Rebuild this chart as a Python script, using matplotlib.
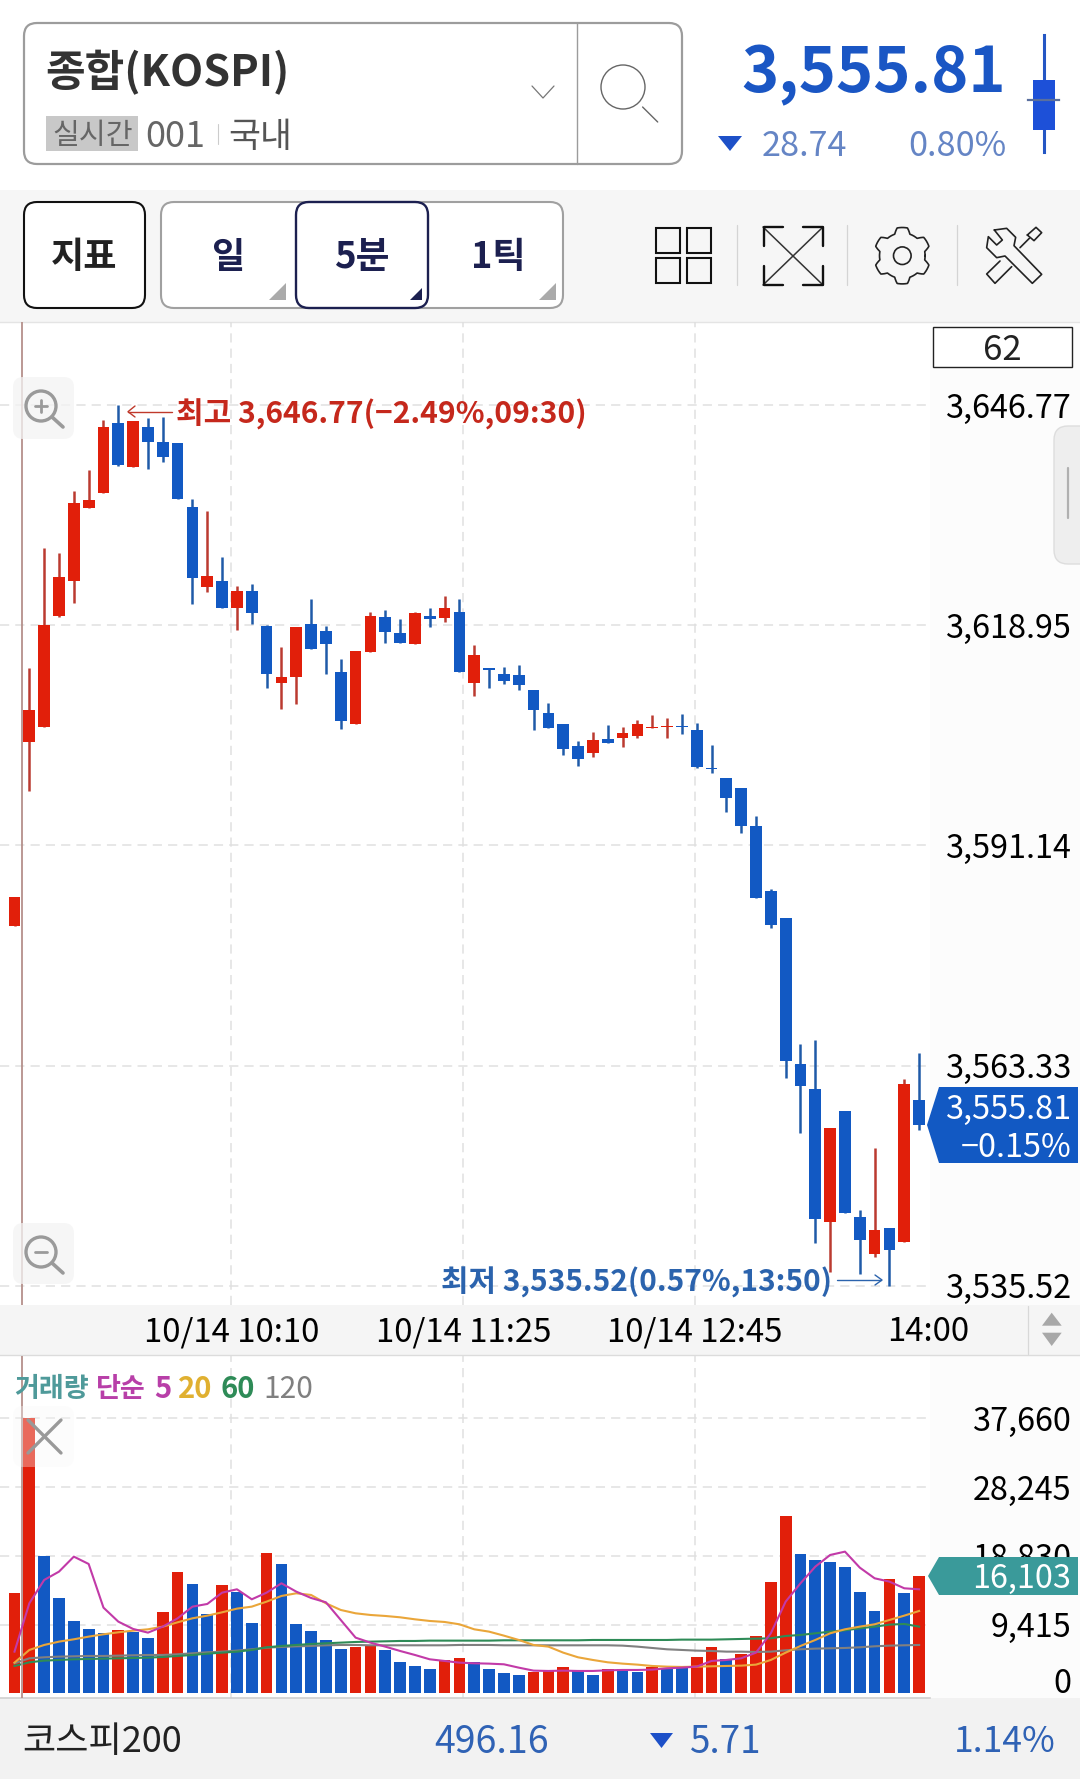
import numpy as np
import matplotlib
matplotlib.use('Agg')
import matplotlib.pyplot as plt
from matplotlib.patches import FancyBboxPatch, Polygon, Rectangle, Circle, Ellipse
from matplotlib.transforms import ScaledTranslation

plt.rcParams['font.family'] = ['Noto Sans CJK KR', 'DejaVu Sans']

# candles: open, high, low, close
opens = [3580.97, 3604.21, 3606.10, 3620.16, 3624.54, 3633.80, 3635.69, 3644.50, 3638.98, 3643.99, 3642.10,
         3641.97, 3633.89, 3623.82, 3624.50, 3621.17, 3623.24, 3618.86, 3611.70, 3612.42, 3619.07, 3618.23,
         3613.01, 3606.44, 3615.54, 3620.03, 3617.94, 3616.55, 3620.12, 3619.83, 3620.59, 3611.62, 3613.52,
         3612.76, 3612.67, 3610.74, 3607.83, 3606.44, 3603.74, 3602.82, 3604.62, 3604.67, 3605.00, 3606.01,
         3606.10, 3606.27, 3605.68, 3600.92, 3599.70, 3598.36, 3593.64, 3585.39, 3581.94, 3563.50, 3560.38,
         3543.58, 3557.60, 3544.25, 3539.58, 3542.86, 3541.10, 3558.95]
highs = [3584.63, 3613.59, 3628.71, 3628.08, 3635.95, 3638.56, 3644.88, 3646.77, 3644.75, 3645.13, 3645.29,
         3641.97, 3634.86, 3633.34, 3627.53, 3623.95, 3624.12, 3618.98, 3616.24, 3618.69, 3622.23, 3618.90,
         3614.65, 3615.74, 3620.66, 3620.84, 3619.70, 3620.66, 3621.09, 3622.68, 3622.23, 3616.46, 3613.52,
         3613.72, 3613.93, 3610.74, 3609.17, 3606.44, 3604.37, 3605.51, 3606.39, 3606.06, 3606.95, 3607.65,
         3607.20, 3607.78, 3606.57, 3603.87, 3599.70, 3598.36, 3594.86, 3585.60, 3581.94, 3566.10, 3566.57,
         3555.42, 3557.60, 3545.10, 3552.97, 3542.86, 3561.68, 3564.97]
lows = [3580.97, 3598.06, 3606.10, 3620.03, 3621.80, 3633.80, 3635.69, 3639.07, 3638.90, 3638.72, 3639.61,
        3634.86, 3621.64, 3623.19, 3621.17, 3618.35, 3619.11, 3610.99, 3608.41, 3609.01, 3615.99, 3612.76,
        3605.81, 3606.44, 3615.54, 3616.75, 3616.67, 3616.55, 3618.77, 3619.40, 3613.01, 3610.05, 3610.99,
        3611.57, 3610.77, 3605.76, 3605.94, 3602.60, 3601.18, 3602.35, 3604.08, 3603.61, 3604.75, 3606.01,
        3604.71, 3605.22, 3600.96, 3600.25, 3595.40, 3592.68, 3584.54, 3580.68, 3561.81, 3554.82, 3540.97,
        3537.31, 3544.68, 3537.05, 3539.20, 3535.52, 3541.10, 3555.20]
closes = [3584.63, 3608.25, 3618.98, 3625.05, 3634.39, 3634.77, 3643.95, 3639.19, 3644.75, 3642.10, 3640.24,
          3634.86, 3624.88, 3625.13, 3621.17, 3623.28, 3620.50, 3612.76, 3612.45, 3618.69, 3615.99, 3616.55,
          3606.90, 3615.74, 3620.12, 3618.14, 3616.67, 3620.46, 3619.70, 3621.09, 3613.01, 3615.16, 3613.26,
          3611.95, 3611.37, 3608.25, 3605.94, 3603.36, 3602.06, 3604.42, 3604.08, 3605.31, 3606.48, 3606.14,
          3606.23, 3606.14, 3601.09, 3600.76, 3597.13, 3593.60, 3584.54, 3581.09, 3563.95, 3560.80, 3544.00,
          3555.42, 3544.68, 3541.27, 3542.57, 3540.05, 3560.98, 3555.81]

volumes = [13786, 37660, 18808, 13056, 9860, 8765, 8308, 8674, 8445, 7578, 11139, 16617, 14973, 10819, 14882,
           13923, 9632, 19173, 17667, 9495, 8582, 7304, 6117, 6391, 6619, 5935, 4337, 3698, 3332, 4565, 4839,
           4245, 3332, 2739, 2511, 2967, 3104, 3561, 3241, 2511, 3332, 3287, 2967, 3652, 3424, 3424, 4976, 6300,
           4656, 5387, 7897, 15201, 24286, 19036, 18214, 17986, 17301, 13832, 11276, 15612, 13786, 16103]
vol_up = [1, 1, 0, 0, 0, 0, 0, 1, 0, 0, 1, 1, 0, 0, 1, 0, 0, 1, 0, 0, 0, 0, 0, 1, 1, 0, 0, 0, 0, 1, 1,
          0, 0, 0, 0, 1, 1, 1, 0, 0, 1, 0, 0, 1, 0, 0, 1, 1, 0, 1, 1, 1, 1, 0, 0, 0, 0, 0, 0, 1, 0, 1]

ma5 = [5706, 12326, 15521, 16662, 18717, 17712, 11732, 9815, 8810, 8308, 9130, 10271, 11869, 12234, 13786,
       14243, 12873, 13786, 15065, 13923, 13056, 12462, 10043, 7624, 6939, 6391, 5798, 5250, 4656, 4428, 4200,
       4109, 4063, 3972, 3515, 3104, 3059, 3104, 3059, 3059, 3150, 3196, 3196, 3241, 3424, 3515, 3652, 4428,
       4565, 4793, 5569, 8217, 12554, 15065, 17347, 18945, 19401, 17210, 15749, 15293, 14380, 14243]
ma20 = [4200, 5935, 6619, 7076, 7395, 7761, 8080, 8354, 8582, 8765, 9130, 9723, 10271, 10636, 11093, 11595,
        11869, 12554, 13330, 13695, 13467, 12326, 11413, 10956, 10728, 10591, 10408, 10134, 9906, 9769, 9450,
        8765, 8445, 7897, 7304, 6619, 6391, 5569, 4930, 4565, 4245, 4063, 3926, 3743, 3652, 3606, 3652, 3698,
        3743, 3789, 3926, 4565, 5569, 6482, 7304, 8217, 8765, 9130, 9450, 10043, 10636, 11276]
ma60 = [3743, 4245, 4474, 4565, 4656, 4702, 4748, 4793, 4839, 4885, 4976, 5113, 5250, 5432, 5569, 5706, 5935,
        6300, 6482, 6619, 6756, 6848, 6939, 7030, 7076, 7121, 7167, 7167, 7213, 7213, 7213, 7213, 7213, 7258,
        7258, 7258, 7258, 7258, 7258, 7304, 7304, 7304, 7304, 7304, 7304, 7350, 7350, 7350, 7395, 7441, 7487,
        7532, 7852, 7989, 8217, 8445, 8628, 8902, 9130, 9404, 9495, 9130]
ma120 = [4109, 4793, 4930, 5022, 5067, 5113, 5113, 5158, 5204, 5250, 5250, 5341, 5478, 5615, 5706, 5843, 6026,
         6254, 6345, 6437, 6482, 6574, 6619, 6619, 6574, 6574, 6574, 6574, 6574, 6574, 6619, 6619, 6619, 6574,
         6574, 6574, 6574, 6574, 6574, 6574, 6574, 6528, 6391, 6208, 6026, 5935, 5843, 5798, 5706, 5706, 5661,
         5706, 5889, 6026, 6117, 6163, 6208, 6300, 6437, 6528, 6574, 6619]

price_ticks = [3535.52, 3563.33, 3591.14, 3618.95, 3646.77]
price_labels = ['3,535.52', '3,563.33', '3,591.14', '3,618.95', '3,646.77']
vol_ticks = [0, 9415, 18830, 28245, 37660]
vol_labels = ['0', '9,415', '18,830', '28,245', '37,660']
time_ticks = [14.62, 30.26, 45.88, 61.6]
time_labels = ['10/14 10:10', '10/14 11:25', '10/14 12:45', '14:00']

RED = '#e11f0a'
BLUE = '#1259c3'
W, H = 1080, 1779
PLOT_R = 930
GRID = '#e0e0e0'


def px_axes(fig, left, top, right, bottom):
    return fig.add_axes([left / W, 1 - bottom / H, (right - left) / W, (bottom - top) / H])


def rbox(ax, x0, y0, x1, y1, r, **kw):
    ax.add_patch(FancyBboxPatch((x0, y0), x1 - x0, y1 - y0, boxstyle='round,pad=0,rounding_size=%g' % r, **kw))


def txt(ax, x, y, s, size, color='black', ha='left', weight='normal'):
    # the CJK font sits high when centred, hence the nudge
    ax.text(x, y + 0.24 * size, s, fontsize=size, color=color, ha=ha, va='center', fontweight=weight)


def seg(ax, xs, ys, color='black', lw=1.2):
    ax.plot(xs, ys, color=color, lw=lw, solid_capstyle='round', solid_joinstyle='round')


def icon(ax, zx, zy, color='#222222', lw=1.2):
    # outline given in the 3x crop of the toolbar
    seg(ax, 740 + np.array(zx) / 3, 205 + np.array(zy) / 3, color, lw)


fig = plt.figure(figsize=(W / 100, H / 100), dpi=100, facecolor='white')

# backgrounds
bg = px_axes(fig, 0, 0, W, H)
bg.set_xlim(0, W)
bg.set_ylim(H, 0)
bg.axis('off')
bg.set_zorder(0)
bg.add_patch(Rectangle((0, 190), W, 132, color='#f6f6f6', lw=0))
bg.add_patch(Rectangle((PLOT_R, 322), W - PLOT_R, 983, color='#fcfcfc', lw=0))
bg.add_patch(Rectangle((PLOT_R, 1356), W - PLOT_R, 342, color='#fcfcfc', lw=0))
bg.add_patch(Rectangle((0, 1305), W, 50, color='#f5f5f5', lw=0))
bg.add_patch(Rectangle((0, 1698), W, 81, color='#f2f2f2', lw=0))
bg.plot([0, W], [321.5, 321.5], color='#e4e4e4', lw=1)
bg.plot([0, W], [1355, 1355], color='#dcdcdc', lw=1)

# price chart
xs = np.arange(len(closes))
opens_a, highs_a, lows_a, closes_a = map(np.array, (opens, highs, lows, closes))
up = closes_a >= opens_a
x_left = -14.5 / 14.83
x_right = (PLOT_R - 14.5) / 14.83
scale = 27.81 / 220.2

ax = px_axes(fig, 0, 322, PLOT_R, 1305)
ax.set_zorder(1)
ax.patch.set_alpha(0)
ax.set_xlim(x_left, x_right)
ax.set_ylim(3646.77 - 900 * scale, 3646.77 + 83 * scale)
ax.vlines(xs[up], lows_a[up], highs_a[up], color='#bb3a30', lw=1.8, zorder=3)
ax.vlines(xs[~up], lows_a[~up], highs_a[~up], color='#1f5aa8', lw=1.8, zorder=3)
body = np.maximum(np.abs(closes_a - opens_a), 0.1)
ax.bar(xs[up], body[up], bottom=np.minimum(opens_a, closes_a)[up], width=0.79, color=RED, zorder=4)
ax.bar(xs[~up], body[~up], bottom=np.minimum(opens_a, closes_a)[~up], width=0.79, color=BLUE, zorder=4)
ax.axvline(0.526, color='#b5908b', lw=1.3, zorder=2)
ax.set_yticks(price_ticks)
ax.set_yticklabels(price_labels, fontsize=23.3, ha='right')
ax.yaxis.tick_right()
ax.set_xticks(time_ticks)
ax.set_xticklabels(time_labels, fontsize=23.7)
ax.tick_params(axis='y', length=0, pad=101.5)
ax.tick_params(axis='x', length=0, pad=8)
ax.grid(True, color=GRID, lw=1.1, ls=(0, (6, 4)), zorder=1)
ax.xaxis.get_gridlines()[3].set_visible(False)
for s in ax.spines.values():
    s.set_visible(False)

# volume chart
vol_scale = 136.95
vx = px_axes(fig, 0, 1356, PLOT_R, 1698)
vx.set_zorder(1)
vx.patch.set_alpha(0)
vx.set_xlim(x_left, x_right)
vx.set_ylim(-4.7 * vol_scale, (1693.3 - 1356) * vol_scale)
vx.bar(xs, volumes, width=0.79, color=[RED if u else BLUE for u in vol_up], zorder=3)
vx.plot(xs, ma120, color='#808080', lw=1.5, zorder=4)
vx.plot(xs, ma60, color='#2e8b57', lw=1.5, zorder=4)
vx.plot(xs, ma20, color='#eaa63a', lw=1.5, zorder=5)
vx.plot(xs, ma5, color='#c23aa8', lw=1.5, zorder=6)
vx.axvline(0.526, color='#b5908b', lw=1.3, zorder=5)
vx.set_yticks(vol_ticks)
vx.set_yticklabels(vol_labels, fontsize=23.3, ha='right')
vx.yaxis.tick_right()
vx.set_xticks(time_ticks)
vx.tick_params(axis='x', length=0, labelbottom=False)
vx.tick_params(axis='y', length=0, pad=101.5)
vx.grid(True, color=GRID, lw=1.1, ls=(0, (6, 4)), zorder=1)
vx.yaxis.get_gridlines()[0].set_visible(False)
vx.xaxis.get_gridlines()[3].set_visible(False)
zero = vx.get_yticklabels()[0]
zero.set_transform(zero.get_transform() + ScaledTranslation(0, 0.13, fig.dpi_scale_trans))
for k, s in vx.spines.items():
    s.set_visible(False)
vx.spines['bottom'].set_visible(True)
vx.spines['bottom'].set_color('#d0d0d0')
vx.spines['bottom'].set_linewidth(1.2)

# everything of the app around the charts
ov = px_axes(fig, 0, 0, W, H)
ov.set_xlim(0, W)
ov.set_ylim(H, 0)
ov.axis('off')
ov.set_zorder(5)
ov.patch.set_alpha(0)

# header
rbox(ov, 24, 23, 682, 164, 13, fc='white', ec='#9c9c9c', lw=1.6)
seg(ov, [576.5, 576.5], [23, 164], '#9c9c9c', 1.0)
txt(ov, 45, 65, '종합(KOSPI)', 31, '#333333', weight='bold')
ov.add_patch(Rectangle((46, 116), 92, 35, color='#c8c8c8', lw=0))
txt(ov, 52, 131, '실시간', 21, '#666666')
txt(ov, 145, 131, '001', 26, '#666666')
seg(ov, [218, 218], [124, 144], '#cccccc', 0.8)
txt(ov, 228, 131, '국내', 25, '#555555')
seg(ov, [532, 543, 554], [86, 98, 86], '#777777', 0.9)
ov.add_patch(Ellipse((623, 87), 44, 44, fc='none', ec='#666666', lw=1.0))
seg(ov, [642.6, 657.7], [107, 122], '#666666', 1.0)
txt(ov, 1006, 64, '3,555.81', 45.5, '#1a56c4', ha='right', weight='bold')
ov.plot([1044, 1044], [35, 152], color='#2456c4', lw=2.2)
ov.add_patch(Rectangle((1033, 80), 22, 50, color='#1d50d8', lw=0, zorder=3))
ov.plot([1028, 1059], [100, 100], color='#5a6f9e', lw=1.6, zorder=4)
ov.add_patch(Polygon([(718, 136), (742, 136), (730, 151)], color='#1d50c8', lw=0))
txt(ov, 847, 141, '28.74', 24.6, '#6585c5', ha='right')
txt(ov, 1007, 141, '0.80%', 24.6, '#6585c5', ha='right')

# toolbar
rbox(ov, 24, 202, 145, 308, 13, fc='white', ec='#111111', lw=1.5)
txt(ov, 84, 251, '지표', 26, '#222222', ha='center', weight='bold')
rbox(ov, 161, 202, 563, 308, 13, fc='white', ec='#a0a0a0', lw=1.5)
rbox(ov, 296, 202, 428, 308, 13, fc='white', ec='#1c2050', lw=1.7)
txt(ov, 228, 251, '일', 26, '#1c2050', ha='center', weight='bold')
txt(ov, 362, 251, '5분', 26.5, '#1c2050', ha='center', weight='bold')
txt(ov, 498, 251, '1틱', 26, '#1c2050', ha='center', weight='bold')
for tri, c in (([(286, 283), (286, 300), (268.6, 300)], '#aaaaaa'),
               ([(421.5, 288), (421.5, 300), (410, 300)], '#1c2050'),
               ([(555.8, 283), (555.8, 300), (538.6, 300)], '#aaaaaa')):
    ov.add_patch(Polygon(tri, color=c, lw=0))
for x0, x1 in ((655.6, 680), (686.6, 710.7)):
    for y0, y1 in ((228, 253), (258, 283)):
        ov.add_patch(Rectangle((x0, y0), x1 - x0, y1 - y0, fc='none', ec='#111111', lw=1.5))
for sx in (847, 957, 737):
    seg(ov, [sx, sx], [225, 285], '#d4d4d4', 0.9)
seg(ov, [763, 823], [227, 285], '#333333', 1.1)
seg(ov, [823, 763], [227, 285], '#333333', 1.1)
seg(ov, [783, 763.5, 763.5], [227, 227, 246], '#111111', 1.7)
seg(ov, [803, 822.5, 822.5], [227, 227, 246], '#111111', 1.7)
seg(ov, [783, 763.5, 763.5], [285, 285, 266], '#111111', 1.7)
seg(ov, [803, 822.5, 822.5], [285, 285, 266], '#111111', 1.7)
ang = np.linspace(0, 2 * np.pi, 241)
rad = 25.5 - 2.7 * np.clip(2.2 * np.cos(6 * ang), -1, 1)
ov.plot(902.3 + rad * np.cos(ang), 255.7 + rad * np.sin(ang), color='#222222', lw=1.2)
ov.add_patch(Circle((902.3, 255.7), 8.8, fc='none', ec='#222222', lw=1.2))
icon(ov, [763, 800, 827, 822, 905, 877, 795, 770, 740, 745, 770, 787, 763],
     [75, 70, 97, 122, 208, 235, 153, 158, 128, 95, 120, 105, 75])
icon(ov, [780, 740, 765, 815], [168, 207, 235, 185])
icon(ov, [840, 868], [128, 100])
icon(ov, [862, 888, 905, 882, 862], [90, 67, 83, 107, 90])

# price chart furniture
ov.add_patch(Rectangle((933, 327), 139, 40, fc='white', ec='#222222', lw=1.0))
txt(ov, 1002, 345, '62', 25, '#222222', ha='center')
rbox(ov, 13, 377, 74, 439, 10, fc='#f4f4f4', ec='none', alpha=0.75)
ov.add_patch(Circle((41, 406), 15, fc='none', ec='#9a9a9a', lw=2.4))
seg(ov, [52, 63], [417, 427], '#9a9a9a', 2.6)
seg(ov, [35, 47], [406, 406], '#9a9a9a', 2)
seg(ov, [41, 41], [400, 412], '#9a9a9a', 2)
rbox(ov, 13, 1223, 74, 1284, 10, fc='#f4f4f4', ec='none', alpha=0.75)
ov.add_patch(Circle((41, 1252), 15, fc='none', ec='#9a9a9a', lw=2.4))
seg(ov, [52, 63], [1263, 1273], '#9a9a9a', 2.6)
seg(ov, [35, 47], [1252, 1252], '#9a9a9a', 2)
rbox(ov, 1054, 426, 1100, 564, 14, fc='#eeeeee', ec='#dddddd', lw=1)
seg(ov, [1068, 1068], [468, 518], '#b0b0b0', 1.6)

txt(ov, 176, 409, '최고 3,646.77(−2.49%,09:30)', 21.6, '#c5281c', weight='bold')
seg(ov, [172, 128], [411.7, 411.7], '#c0392b', 1.0)
seg(ov, [135, 128, 135], [406, 411.7, 417], '#c0392b', 1.0)
txt(ov, 441, 1277, '최저 3,535.52(0.57%,13:50)', 21.5, '#2b63ad', weight='bold')
seg(ov, [837, 881], [1280, 1280], '#2b63ad', 1.0)
seg(ov, [875, 882, 875], [1275, 1280, 1285], '#2b63ad', 1.0)

ov.add_patch(Polygon([(927, 1125), (939, 1087), (1078, 1087), (1078, 1163), (939, 1163)], color=BLUE, lw=0))
txt(ov, 1071, 1104, '3,555.81', 23.3, 'white', ha='right')
txt(ov, 1072, 1142, '−0.15%', 23.3, 'white', ha='right')

# stepper beside the time axis
seg(ov, [1027.7, 1027.7], [1306, 1354], '#d8d8d8', 0.9)
ov.add_patch(Polygon([(1051.7, 1312.7), (1061.7, 1325.7), (1042, 1325.7)], color='#a8a8a8', lw=0))
ov.add_patch(Polygon([(1051.7, 1346), (1061.7, 1332.7), (1042, 1332.7)], color='#a8a8a8', lw=0))

# volume chart furniture
txt(ov, 14, 1384, '거래량', 19.5, '#4f9a9a', weight='bold')
txt(ov, 96, 1384, '단순', 19.5, '#b83fa8', weight='bold')
txt(ov, 154, 1384, '5', 21, '#b83fa8', weight='bold')
txt(ov, 178, 1384, '20', 21, '#e0b030', weight='bold')
txt(ov, 220, 1384, '60', 21, '#2e8b57', weight='bold')
txt(ov, 263, 1384, '120', 21.5, '#808080')
rbox(ov, 13, 1406, 74, 1467, 10, fc='#f8f8f8', ec='none', alpha=0.35)
seg(ov, [28, 61], [1420, 1453], '#999999', 2.4)
seg(ov, [61, 28], [1420, 1453], '#999999', 2.4)
ov.add_patch(Polygon([(928, 1576), (939, 1557), (1078, 1557), (1078, 1595), (939, 1595)], color='#3a9a9a', lw=0))
txt(ov, 1071, 1573, '16,103', 23.3, 'white', ha='right')

# footer
txt(ov, 22, 1736, '코스피200', 26, '#222222')
txt(ov, 549, 1736, '496.16', 27, '#2f62b5', ha='right')
ov.add_patch(Polygon([(650, 1733), (673, 1733), (661.5, 1748)], color='#1d50c8', lw=0))
txt(ov, 761, 1736, '5.71', 26.5, '#2f62b5', ha='right')
txt(ov, 1056, 1736, '1.14%', 25.6, '#2f62b5', ha='right')

fig.savefig('out.png', dpi=100)
